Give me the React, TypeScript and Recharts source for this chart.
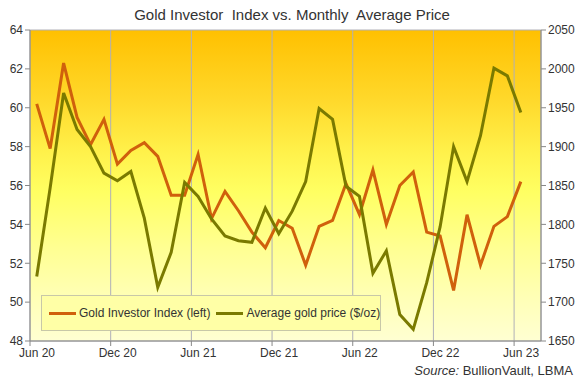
import { LineChart, Line, XAxis, YAxis, CartesianGrid } from 'recharts';

const months = [
  'Jun 20', 'Jul 20', 'Aug 20', 'Sep 20', 'Oct 20', 'Nov 20', 'Dec 20',
  'Jan 21', 'Feb 21', 'Mar 21', 'Apr 21', 'May 21', 'Jun 21', 'Jul 21',
  'Aug 21', 'Sep 21', 'Oct 21', 'Nov 21', 'Dec 21', 'Jan 22', 'Feb 22',
  'Mar 22', 'Apr 22', 'May 22', 'Jun 22', 'Jul 22', 'Aug 22', 'Sep 22',
  'Oct 22', 'Nov 22', 'Dec 22', 'Jan 23', 'Feb 23', 'Mar 23', 'Apr 23',
  'May 23', 'Jun 23',
];

// Gold Investor Index (left axis)
const investorIndex = [
  60.2, 57.9, 62.3, 59.5, 58.1, 59.4, 57.1, 57.8, 58.2, 57.5,
  55.5, 55.5, 57.6, 54.3, 55.7, 54.7, 53.6, 52.8, 54.2, 53.8,
  51.9, 53.9, 54.2, 56.1, 54.5, 56.8, 54.0, 56.0, 56.7, 53.6,
  53.4, 50.6, 54.5, 51.9, 53.9, 54.4, 56.2,
];

// Average gold price $/oz (right axis)
const goldPrice = [
  1733, 1847, 1969, 1922, 1900, 1866, 1856, 1868, 1808, 1719,
  1764, 1854, 1836, 1807, 1785, 1779, 1777, 1821, 1788, 1817,
  1855, 1949, 1935, 1849, 1836, 1737, 1766, 1684, 1665, 1725,
  1797, 1900, 1855, 1914, 2001, 1991, 1944,
];

const xTicks = [0, 6, 12, 18, 24, 30, 36];
const leftTicks = [48, 50, 52, 54, 56, 58, 60, 62, 64];
const rightTicks = [1650, 1700, 1750, 1800, 1850, 1900, 1950, 2000, 2050];

const ORANGE = '#D0600C';
const OLIVE = '#7A7A00';
const TEXT = '#333333';
const FONT = '"Liberation Sans", Arial, sans-serif';

const data = months.map((m, i) => ({
  x: i + 0.5,
  month: m,
  gii: investorIndex[i],
  price: goldPrice[i],
}));

function LegendItem({ color, label }: { color: string; label: string }) {
  return (
    <span style={{ display: 'inline-flex', alignItems: 'center', marginRight: 6, whiteSpace: 'nowrap' }}>
      <span style={{ display: 'inline-block', width: 27, height: 3, background: color, marginRight: 3 }} />
      <span>{label}</span>
    </span>
  );
}

export default function App() {
  return (
    <div style={{ position: 'absolute', left: 0, top: 0, width: 578, height: 381, background: '#fff', fontFamily: FONT }}>
      <div style={{ position: 'absolute', left: 0, top: 6, width: 584, textAlign: 'center', fontSize: 15, color: TEXT }}>
        Gold Investor&nbsp; Index vs. Monthly&nbsp; Average Price
      </div>
      <LineChart width={578} height={381} data={data} margin={{ top: 30, right: 0, bottom: 20, left: 0 }}>
        <defs>
          <linearGradient id="plotBg" x1="0" y1="0" x2="0" y2="1">
            <stop offset="0%" stopColor="#FFC000" />
            <stop offset="22%" stopColor="#FFD82A" />
            <stop offset="40%" stopColor="#FFF24C" />
            <stop offset="52%" stopColor="#FFFF62" />
            <stop offset="70%" stopColor="#FFFF92" />
            <stop offset="87%" stopColor="#FFFFB8" />
            <stop offset="100%" stopColor="#FFFFD2" />
          </linearGradient>
        </defs>
        <CartesianGrid stroke="#B0B0B8" fill="url(#plotBg)" fillOpacity={1} />
        <XAxis
          dataKey="x"
          type="number"
          domain={[0, 38]}
          ticks={xTicks}
          tickFormatter={(v: number) => months[v]}
          tick={{ fill: TEXT, fontSize: 12, fontFamily: FONT, dx: 7 }}
          stroke="#888"
          tickSize={5}
          height={20}
          interval={0}
        />
        <YAxis
          yAxisId="left"
          domain={[48, 64]}
          ticks={leftTicks}
          tick={{ fill: TEXT, fontSize: 12, fontFamily: FONT }}
          stroke="#888"
          tickSize={5}
          width={30}
          interval={0}
        />
        <YAxis
          yAxisId="right"
          orientation="right"
          domain={[1650, 2050]}
          ticks={rightTicks}
          tick={{ fill: TEXT, fontSize: 12, fontFamily: FONT }}
          stroke="#888"
          tickSize={5}
          width={37}
          interval={0}
        />
        <Line yAxisId="left" type="linear" dataKey="gii" stroke={ORANGE} strokeWidth={3} dot={false} isAnimationActive={false} />
        <Line yAxisId="right" type="linear" dataKey="price" stroke={OLIVE} strokeWidth={3} dot={false} isAnimationActive={false} />
      </LineChart>
      <div
        style={{
          position: 'absolute', left: 41, top: 295, width: 340, height: 36,
          background: '#FFFFA6', border: '1px solid #C8C8A8', boxSizing: 'border-box',
          display: 'flex', alignItems: 'center', paddingLeft: 7, fontSize: 12, color: TEXT,
          whiteSpace: 'nowrap',
        }}
      >
        <LegendItem color={ORANGE} label="Gold Investor Index (left)" />
        <LegendItem color={OLIVE} label="Average gold price ($/oz)" />
      </div>
      <div style={{ position: 'absolute', right: 5, top: 363, fontSize: 13, color: TEXT }}>
        <i>Source:</i> BullionVault, LBMA
      </div>
    </div>
  );
}
